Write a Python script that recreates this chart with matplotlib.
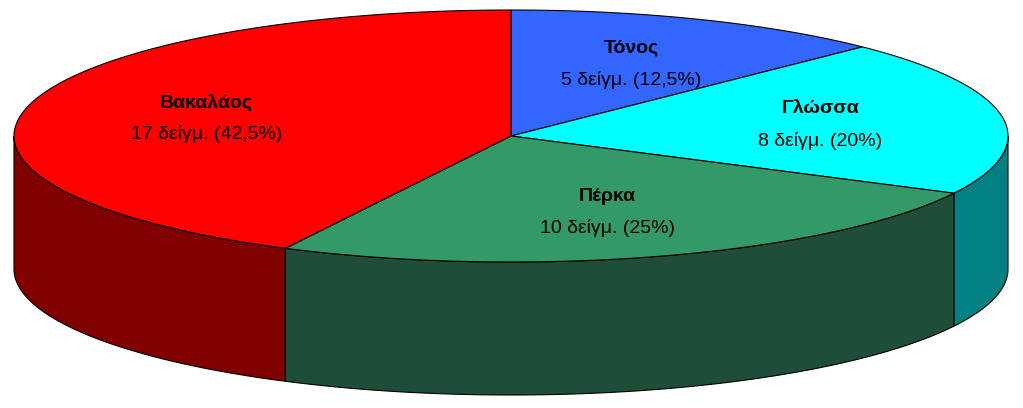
import numpy as np
import matplotlib
matplotlib.use("Agg")
import matplotlib.pyplot as plt
from matplotlib.patches import Polygon

names = ["Τόνος", "Γλώσσα", "Πέρκα", "Βακαλάος"]
counts = [5, 8, 10, 17]
top_colors = ["#3366FF", "#00FFFF", "#339966", "#FF0000"]
side_colors = ["#1A3380", "#008080", "#1E4D38", "#800000"]

cx, cy, rx, ry, depth = 511, 136, 497, 126, 133
total = sum(counts)

fig = plt.figure(figsize=(10.23, 4.08), dpi=100)
ax = fig.add_axes([0, 0, 1, 1])
ax.set_xlim(0, 1023)
ax.set_ylim(408, 0)
ax.axis("off")


def pt(t, dy=0.0):
    r = np.radians(t)
    return cx + rx * np.cos(r), cy - ry * np.sin(r) + dy


# slices go clockwise from 12 o'clock
starts = []
a = 90.0
for c in counts:
    span = 360.0 * c / total
    starts.append((a, a - span))
    a -= span

# side walls (front half only)
for (t0, t1), col in zip(starts, side_colors):
    # front half is angles in [-180, 0] (mod 360)
    lo, hi = t1, t0
    segs = []
    for off in (-360, 0, 360):
        s, e = max(lo + off, -180), min(hi + off, 0)
        if e > s:
            segs.append((s, e))
    for s, e in segs:
        ts = np.linspace(s, e, 80)
        upper = [pt(t) for t in ts]
        lower = [pt(t, depth) for t in ts[::-1]]
        ax.add_patch(Polygon(upper + lower, closed=True, facecolor=col,
                             edgecolor="black", lw=0.8))

# top faces
for (t0, t1), col in zip(starts, top_colors):
    ts = np.linspace(t0, t1, 120)
    verts = [(cx, cy)] + [pt(t) for t in ts]
    ax.add_patch(Polygon(verts, closed=True, facecolor=col,
                         edgecolor="black", lw=0.8))

# labels
for (t0, t1), n, c in zip(starts, names, counts):
    mid = (t0 + t1) / 2
    lx, ly = pt(mid)
    lx = cx + 0.63 * (lx - cx)
    ly = cy + 0.63 * (ly - cy)
    pct = f"{100 * c / total:g}".replace(".", ",")
    ax.text(lx, ly - 15, n, ha="center", va="center", fontsize=14,
            fontweight="bold", family="Liberation Sans")
    ax.text(lx, ly + 17, f"{c} δείγμ. ({pct}%)", ha="center", va="center",
            fontsize=14, family="Liberation Sans")

fig.savefig("out.png", dpi=100)
